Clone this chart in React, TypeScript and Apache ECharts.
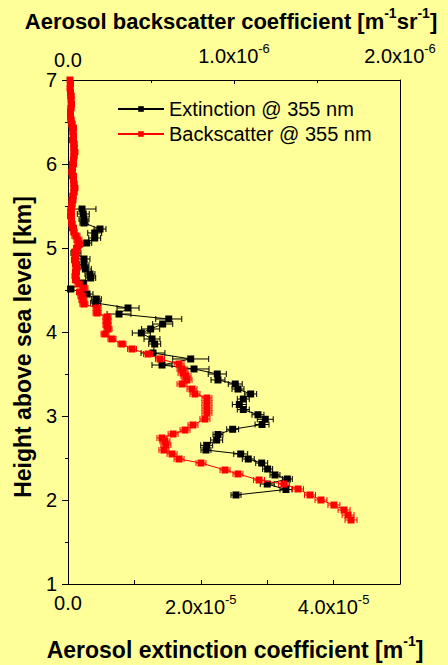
import React, { useEffect, useRef } from 'react';
import * as echarts from 'echarts';

// Extinction @ 355 nm (units of 1e-5 m^-1), heights in km a.s.l.
const extHeightKm = [
  5.464, 5.405, 5.345, 5.298, 5.226, 5.179, 5.119, 5.060, 4.940, 4.869,
  4.798, 4.750, 4.690, 4.643, 4.583, 4.512, 4.452, 4.393, 4.345, 4.286,
  4.214, 4.155, 4.095, 4.036, 3.988, 3.917, 3.857, 3.750, 3.679, 3.607,
  3.560, 3.500, 3.429, 3.381, 3.321, 3.262, 3.202, 3.137, 3.077, 3.015,
  2.961, 2.899, 2.842, 2.780, 2.714, 2.651, 2.595, 2.548, 2.488, 2.440,
  2.369, 2.298, 2.250, 2.190, 2.125, 2.060,
];
const extinctionE5 = [
  0.211, 0.230, 0.241, 0.241, 0.482, 0.402, 0.402, 0.282, 0.120, 0.241,
  0.241, 0.261, 0.331, 0.342, 0.221, 0.041, 0.286, 0.426, 0.417, 0.904,
  0.768, 1.517, 1.426, 1.245, 1.104, 1.265, 1.306, 1.280, 1.848, 1.416,
  1.898, 2.248, 2.259, 2.519, 2.560, 2.751, 2.640, 2.580, 2.640, 2.861,
  2.971, 2.922, 2.480, 2.259, 2.239, 2.089, 2.078, 2.601, 2.715, 2.917,
  3.007, 3.117, 3.303, 3.001, 3.283, 2.530,
];
const extErrorE5 = [
  0.210, 0.090, 0.075, 0.060, 0.090, 0.105, 0.090, 0.075, 0.075, 0.090,
  0.075, 0.090, 0.075, 0.075, 0.060, 0.045, 0.090, 0.075, 0.075, 0.166,
  0.180, 0.196, 0.151, 0.136, 0.136, 0.120, 0.090, 0.180, 0.271, 0.151,
  0.226, 0.136, 0.105, 0.105, 0.090, 0.090, 0.090, 0.105, 0.090, 0.090,
  0.120, 0.105, 0.090, 0.075, 0.090, 0.090, 0.075, 0.105, 0.090, 0.090,
  0.075, 0.075, 0.075, 0.105, 0.090, 0.075,
];

// Backscatter @ 355 nm (units of 1e-6 m^-1 sr^-1)
const bscHeightKm = [
  7.000, 6.952, 6.905, 6.857, 6.810, 6.762, 6.714, 6.667, 6.619, 6.571,
  6.524, 6.476, 6.429, 6.381, 6.333, 6.286, 6.238, 6.190, 6.143, 6.095,
  6.048, 6.000, 5.952, 5.905, 5.857, 5.810, 5.762, 5.714, 5.667, 5.619,
  5.571, 5.524, 5.476, 5.429, 5.381, 5.333, 5.286, 5.238, 5.190, 5.143,
  5.095, 5.048, 5.000, 4.952, 4.905, 4.857, 4.810, 4.762, 4.714, 4.667,
  4.619, 4.571, 4.524, 4.476, 4.429, 4.381, 4.333, 4.286, 4.226, 4.179,
  4.131, 4.083, 4.036, 3.976, 3.917, 3.857, 3.798, 3.738, 3.679, 3.619,
  3.560, 3.512, 3.476, 3.429, 3.381, 3.321, 3.262, 3.214, 3.155, 3.095,
  3.036, 2.964, 2.893, 2.833, 2.786, 2.738, 2.702, 2.655, 2.595, 2.548,
  2.488, 2.440, 2.357, 2.310, 2.238, 2.190, 2.131, 2.060, 2.000, 1.940,
  1.881, 1.821, 1.762,
];
const backscatterE6 = [
  0.012, 0.015, 0.012, 0.015, 0.018, 0.018, 0.021, 0.018, 0.015, 0.015,
  0.018, 0.024, 0.030, 0.030, 0.033, 0.030, 0.036, 0.036, 0.039, 0.036,
  0.033, 0.030, 0.027, 0.024, 0.030, 0.033, 0.036, 0.039, 0.036, 0.030,
  0.027, 0.024, 0.021, 0.018, 0.018, 0.021, 0.024, 0.030, 0.036, 0.048,
  0.060, 0.066, 0.054, 0.042, 0.045, 0.042, 0.048, 0.051, 0.048, 0.045,
  0.048, 0.066, 0.096, 0.072, 0.084, 0.090, 0.096, 0.175, 0.175, 0.235,
  0.235, 0.235, 0.241, 0.223, 0.265, 0.325, 0.386, 0.482, 0.554, 0.669,
  0.687, 0.693, 0.711, 0.717, 0.687, 0.747, 0.765, 0.837, 0.837, 0.837,
  0.837, 0.825, 0.753, 0.705, 0.633, 0.566, 0.584, 0.590, 0.578, 0.627,
  0.669, 0.801, 0.946, 1.024, 1.151, 1.301, 1.386, 1.458, 1.524, 1.602,
  1.663, 1.687, 1.705,
];
const bscErrorE6 = [
  0.015, 0.018, 0.015, 0.018, 0.018, 0.015, 0.018, 0.018, 0.015, 0.018,
  0.018, 0.018, 0.021, 0.018, 0.018, 0.021, 0.018, 0.018, 0.021, 0.018,
  0.018, 0.021, 0.018, 0.018, 0.021, 0.018, 0.018, 0.021, 0.018, 0.018,
  0.021, 0.018, 0.018, 0.018, 0.021, 0.018, 0.018, 0.021, 0.018, 0.024,
  0.024, 0.024, 0.021, 0.021, 0.021, 0.021, 0.021, 0.021, 0.021, 0.021,
  0.021, 0.024, 0.024, 0.021, 0.024, 0.024, 0.024, 0.024, 0.024, 0.024,
  0.024, 0.024, 0.024, 0.024, 0.024, 0.024, 0.027, 0.027, 0.027, 0.030,
  0.030, 0.030, 0.030, 0.030, 0.030, 0.030, 0.030, 0.030, 0.030, 0.030,
  0.030, 0.030, 0.030, 0.030, 0.030, 0.030, 0.030, 0.030, 0.030, 0.030,
  0.030, 0.030, 0.030, 0.030, 0.033, 0.033, 0.033, 0.033, 0.036, 0.036,
  0.036, 0.036, 0.036,
];

const extName = 'Extinction @ 355 nm';
const bscName = 'Backscatter @ 355 nm';
const FONT = '"Liberation Sans", Arial, Helvetica, sans-serif';
const BG = '#FFFF99';
const TICK_FS = 20;
const TITLE_FS = 23;

const supRich = {
  m: { fontSize: TICK_FS, lineHeight: 28, color: '#000', fontFamily: FONT },
  s: { fontSize: 13, lineHeight: 13, verticalAlign: 'top', color: '#000', fontFamily: FONT },
};

const errRender = (color: string) => (params: any, api: any) => {
  const x = api.value(0);
  const y = api.value(1);
  const e = api.value(2);
  const a = api.coord([x - e, y]);
  const b = api.coord([x + e, y]);
  const c = 3;
  const style = { stroke: color, lineWidth: 1 };
  return {
    type: 'group',
    children: [
      { type: 'line', shape: { x1: a[0], y1: a[1], x2: b[0], y2: b[1] }, style },
      { type: 'line', shape: { x1: a[0], y1: a[1] - c, x2: a[0], y2: a[1] + c }, style },
      { type: 'line', shape: { x1: b[0], y1: b[1] - c, x2: b[0], y2: b[1] + c }, style },
    ],
  };
};

export default function App() {
  const ref = useRef<HTMLDivElement>(null);
  useEffect(() => {
    if (!ref.current) return;
    const chart = echarts.init(ref.current, null, { renderer: 'svg' });
    const axisLineStyle = { color: '#000', width: 1 };
    const titleRich = {
      s: { fontSize: 14, lineHeight: 14, fontWeight: 'bold', verticalAlign: 'top', fontFamily: FONT },
    };
    const option: any = {
      animation: false,
      backgroundColor: BG,
      textStyle: { fontFamily: FONT },
      grid: { left: 68, right: 48, top: 80, bottom: 81, containLabel: false },
      legend: {
        data: [extName, bscName],
        orient: 'vertical',
        left: 117,
        top: 99,
        padding: 0,
        itemWidth: 46,
        itemHeight: 7,
        itemGap: 5,
        textStyle: { fontSize: 20, color: '#000', fontFamily: FONT },
        backgroundColor: 'transparent',
      },
      xAxis: [
        {
          type: 'value',
          position: 'bottom',
          min: 0,
          max: 5,
          interval: 1,
          axisLine: { show: true, onZero: false, lineStyle: axisLineStyle },
          axisTick: { show: true, inside: true, length: 4, lineStyle: axisLineStyle },
          splitLine: { show: false },
          axisLabel: {
            margin: 9,
            fontSize: TICK_FS,
            color: '#000',
            fontFamily: FONT,
            rich: supRich,
            formatter: (v: number) => {
              const k = Math.round(v);
              if (k % 2 !== 0) return '';
              if (k === 0) return '0.0';
              return `{m|${k}.0x10}{s|-5}`;
            },
          },
        },
        {
          type: 'value',
          position: 'top',
          min: 0,
          max: 2,
          interval: 1,
          axisLine: { show: true, onZero: false, lineStyle: axisLineStyle },
          axisTick: { show: true, inside: true, length: 4, lineStyle: axisLineStyle },
          minorTick: { show: true, splitNumber: 2, length: 3, lineStyle: axisLineStyle },
          splitLine: { show: false },
          axisLabel: {
            margin: 10,
            fontSize: TICK_FS,
            color: '#000',
            fontFamily: FONT,
            rich: supRich,
            formatter: (v: number) => {
              const k = Math.round(v);
              if (k === 0) return '0.0';
              return `{m|${k}.0x10}{s|-6}`;
            },
          },
        },
      ],
      yAxis: [
        {
          type: 'value',
          position: 'left',
          min: 1,
          max: 7,
          interval: 1,
          axisLine: { show: true, onZero: false, lineStyle: axisLineStyle },
          axisTick: { show: true, inside: false, length: 6, lineStyle: axisLineStyle },
          minorTick: { show: true, splitNumber: 2, length: 3, lineStyle: axisLineStyle },
          splitLine: { show: false },
          axisLabel: { margin: 11, fontSize: TICK_FS, color: '#000', fontFamily: FONT },
        },
        {
          type: 'value',
          position: 'right',
          min: 1,
          max: 7,
          interval: 1,
          axisLine: { show: true, onZero: false, lineStyle: axisLineStyle },
          axisTick: { show: false },
          splitLine: { show: false },
          axisLabel: { show: false },
        },
      ],
      graphic: [
        {
          type: 'text',
          x: 231,
          y: 21,
          style: {
            text: 'Aerosol backscatter coefficient [m{s|-1}sr{s|-1}]',
            fontSize: 22,
            fontWeight: 'bold',
            fontFamily: FONT,
            fill: '#000',
            lineHeight: 31,
            align: 'center',
            verticalAlign: 'middle',
            rich: titleRich,
          },
        },
        {
          type: 'text',
          x: 235,
          y: 650,
          style: {
            text: 'Aerosol extinction coefficient [m{s|-1}]',
            fontSize: TITLE_FS,
            fontWeight: 'bold',
            fontFamily: FONT,
            fill: '#000',
            lineHeight: 32,
            align: 'center',
            verticalAlign: 'middle',
            rich: titleRich,
          },
        },
        {
          type: 'text',
          x: 23,
          y: 347,
          rotation: Math.PI / 2,
          style: {
            text: 'Height above sea level [km]',
            fontSize: TITLE_FS,
            fontWeight: 'bold',
            fontFamily: FONT,
            fill: '#000',
            align: 'center',
            verticalAlign: 'middle',
          },
        },
      ],
      series: [
        {
          type: 'custom',
          xAxisIndex: 0,
          yAxisIndex: 0,
          renderItem: errRender('#000'),
          encode: { x: 0, y: 1 },
          data: extinctionE5.map((v, i) => [v, extHeightKm[i], extErrorE5[i]]),
          z: 2,
        },
        {
          name: extName,
          type: 'line',
          xAxisIndex: 0,
          yAxisIndex: 0,
          symbol: 'rect',
          symbolSize: 7,
          showAllSymbol: true,
          lineStyle: { color: '#000', width: 1 },
          itemStyle: { color: '#000' },
          data: extinctionE5.map((v, i) => [v, extHeightKm[i]]),
          z: 3,
        },
        {
          type: 'custom',
          xAxisIndex: 1,
          yAxisIndex: 0,
          renderItem: errRender('#FF0000'),
          encode: { x: 0, y: 1 },
          data: backscatterE6.map((v, i) => [v, bscHeightKm[i], bscErrorE6[i]]),
          z: 4,
        },
        {
          name: bscName,
          type: 'line',
          xAxisIndex: 1,
          yAxisIndex: 0,
          symbol: 'rect',
          symbolSize: 7,
          showAllSymbol: true,
          lineStyle: { color: '#FF0000', width: 1 },
          itemStyle: { color: '#FF0000' },
          data: backscatterE6.map((v, i) => [v, bscHeightKm[i]]),
          z: 5,
        },
      ],
    };
    chart.setOption(option);
    return () => chart.dispose();
  }, []);
  return (
    <div
      ref={ref}
      style={{ position: 'absolute', left: 0, top: 0, width: 448, height: 665, background: BG }}
    />
  );
}
